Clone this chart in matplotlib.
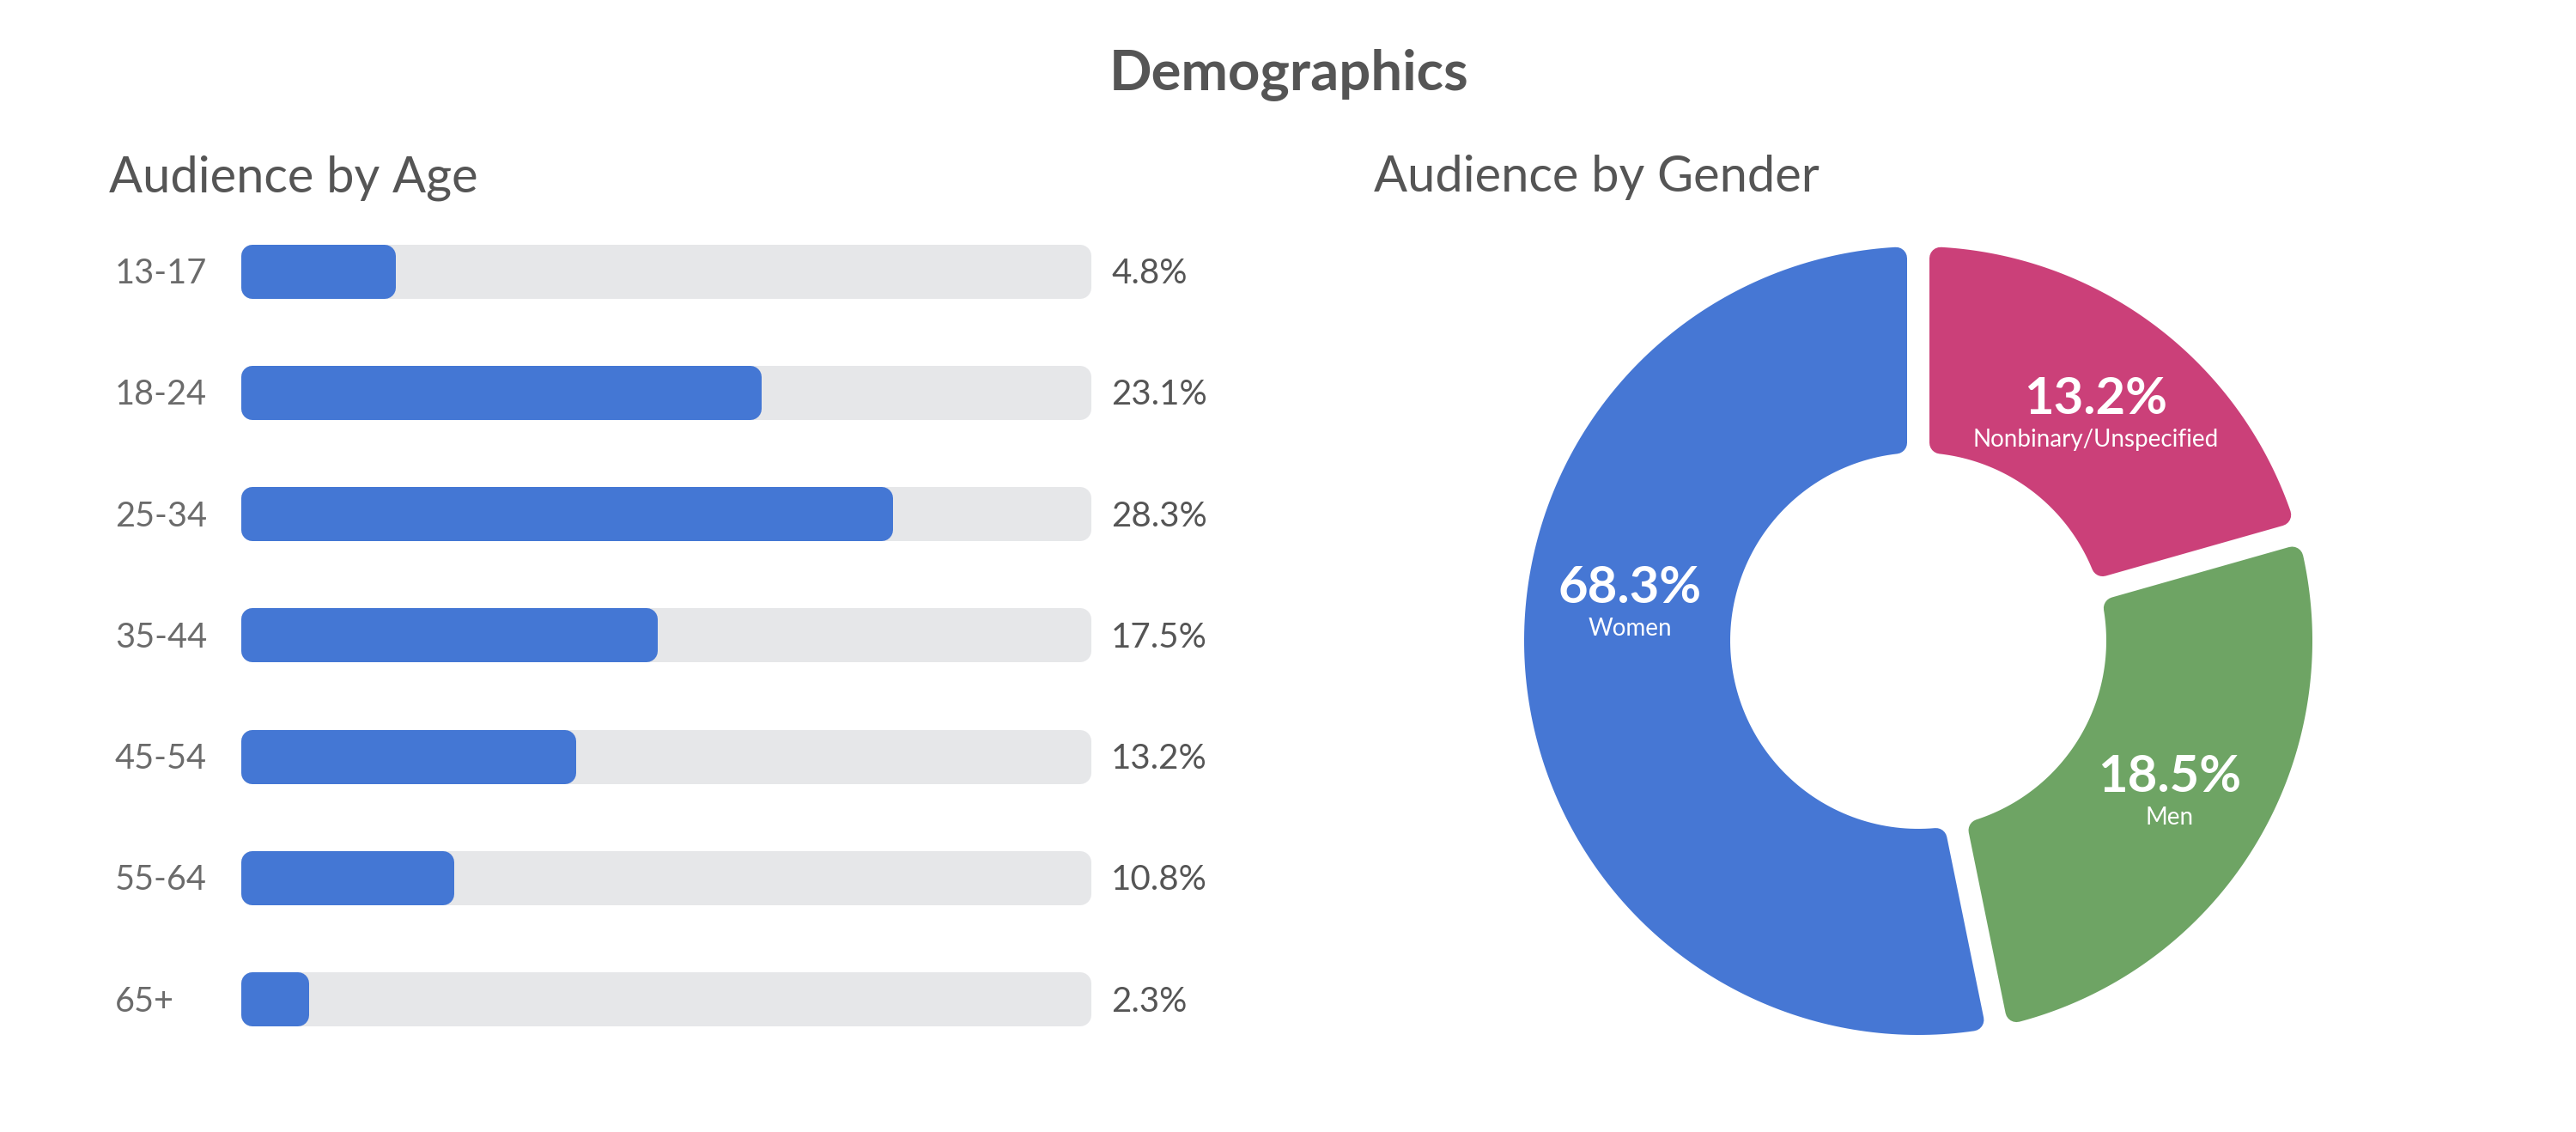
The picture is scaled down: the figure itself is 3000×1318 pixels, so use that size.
import matplotlib
matplotlib.use('Agg')
import matplotlib.pyplot as plt
import numpy as np
from matplotlib.patches import Polygon

# --- data ---
age_groups    = ['13-17', '18-24', '25-34', '35-44', '45-54', '55-64', '65+']
age_labels    = ['4.8%', '23.1%', '28.3%', '17.5%', '13.2%', '10.8%', '2.3%']
age_bar_fill  = [18.2, 61.2, 76.7, 49.0, 39.4, 25.1, 8.0]   # % of track, as drawn

gender_names  = ['Nonbinary/Unspecified', 'Men', 'Women']
gender_labels = ['13.2%', '18.5%', '68.3%']
gender_arc    = [20.6, 26.2, 53.2]                          # share of ring, as drawn
gender_colors = ['#cb4079', '#6ea464', '#4677d4']
label_angle   = [37.5, 120.3, 278.3]                        # deg clockwise from top

W, H, DPI = 3000, 1318, 200
PT = 72 / DPI                     # points per pixel
GRAY_DARK = '#555555'
GRAY_MID = '#6b6b6b'
TRACK = '#e6e7e9'
BLUE = '#4477d4'

plt.rcParams['font.family'] = ['Lato', 'DejaVu Sans']

fig = plt.figure(figsize=(W / DPI, H / DPI), dpi=DPI)
fig.patch.set_facecolor('white')

def fx(px): return px / W
def fy(py): return 1 - py / H

fig.text(fx(1501), fy(105), 'Demographics', ha='center', va='baseline',
         fontsize=23.5, fontweight='bold', color=GRAY_DARK)
fig.text(fx(127), fy(223), 'Audience by Age', ha='left', va='baseline',
         fontsize=20.8, color=GRAY_DARK)
fig.text(fx(1600), fy(223), 'Audience by Gender', ha='left', va='baseline',
         fontsize=20.8, color=GRAY_DARK)

# --- age bars ---
track_l, track_w = 281, 990
row0, row_step, bar_h, rad = 316, 141.3, 63, 13
ax = fig.add_axes([fx(track_l), fy(row0 + 6.5 * row_step),
                   track_w / W, 7 * row_step / H])
ax.set_xlim(0, 100)
ax.set_ylim(6.5, -0.5)
ax.axis('off')

xpx = track_w / 100              # pixels per x unit
ypx = row_step                   # pixels per y unit
y = np.arange(len(age_groups))
inner_h = (bar_h - 2 * rad) / ypx
pad_x = rad / xpx
lw = 2 * rad * PT

ax.barh(y, 100 - 2 * pad_x, height=inner_h, left=pad_x, color=TRACK,
        edgecolor=TRACK, linewidth=lw, joinstyle='round')
ax.barh(y, np.array(age_bar_fill) - 2 * pad_x, height=inner_h, left=pad_x,
        color=BLUE, edgecolor=BLUE, linewidth=lw, joinstyle='round')

for i, (g, lab) in enumerate(zip(age_groups, age_labels)):
    ax.text((134 - track_l) / xpx, i + 14 / ypx, g, ha='left', va='baseline',
            fontsize=14.3, color=GRAY_MID)
    ax.text((1294 - track_l) / xpx, i + 14 / ypx, lab, ha='left', va='baseline',
            fontsize=14.5, color=GRAY_DARK)

# --- gender donut (pixel units, centred) ---
cx, cy = 2234, 746
R_out, R_in, gap, crad = 459, 219, 26, 13
dax = fig.add_axes([fx(1760), fy(1220), 950 / W, 950 / H])
dax.set_xlim(1760 - cx, 2710 - cx)
dax.set_ylim(cy - 1220, cy - 270)
dax.set_aspect('equal')
dax.axis('off')

bounds = np.concatenate([[0], np.cumsum(gender_arc)]) / np.sum(gender_arc) * 360
ro, ri, h = R_out - crad, R_in + crad, gap / 2 + crad
for k, col in enumerate(gender_colors):
    a0, a1 = np.radians(bounds[k]), np.radians(bounds[k + 1])
    t_out = np.linspace(a0 + np.arcsin(h / ro), a1 - np.arcsin(h / ro), 200)
    t_in = np.linspace(a1 - np.arcsin(h / ri), a0 + np.arcsin(h / ri), 120)
    xs = np.concatenate([ro * np.sin(t_out), ri * np.sin(t_in)])
    ys = np.concatenate([ro * np.cos(t_out), ri * np.cos(t_in)])
    dax.add_patch(Polygon(np.column_stack([xs, ys]), closed=True, facecolor=col,
                          edgecolor=col, linewidth=2 * crad * PT, joinstyle='round'))

r_lab = (R_out + R_in) / 2
for ang, val, name in zip(label_angle, gender_labels, gender_names):
    t = np.radians(ang)
    lx, ly = r_lab * np.sin(t), r_lab * np.cos(t)
    dax.text(lx, ly - 5, val, ha='center', va='baseline', fontsize=21.5,
             fontweight='bold', color='white')
    dax.text(lx, ly - 43, name, ha='center', va='baseline', fontsize=10,
             color='white')

fig.savefig('out.png', dpi=DPI, facecolor='white')
